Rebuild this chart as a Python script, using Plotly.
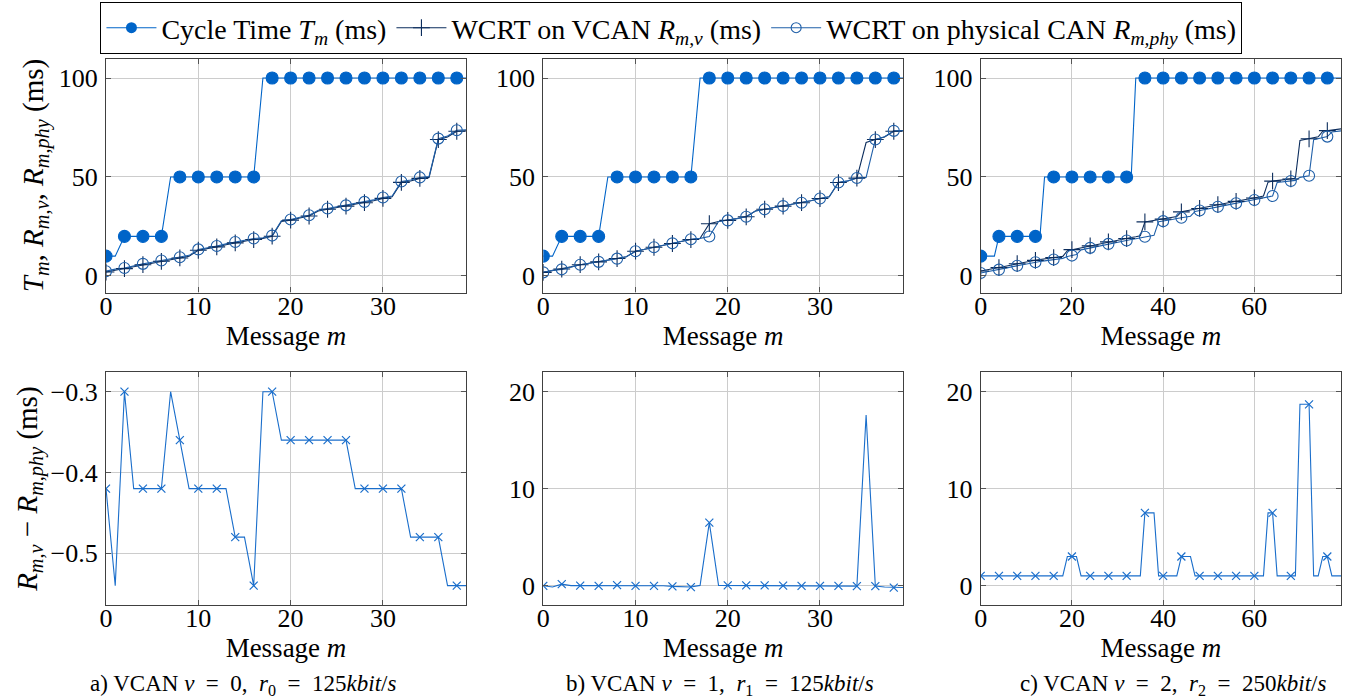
import plotly.graph_objects as go

# ---------------- data ----------------
msg_ab = [0, 1, 2, 3, 4, 5, 6, 7, 8, 9, 10, 11, 12, 13, 14, 15, 16, 17, 18, 19,
          20, 21, 22, 23, 24, 25, 26, 27, 28, 29, 30, 31, 32, 33, 34, 35, 36, 37, 38, 39]
msg_c = [0, 1, 2, 3, 4, 5, 6, 7, 8, 9, 10, 11, 12, 13, 14, 15, 16, 17, 18, 19,
         20, 21, 22, 23, 24, 25, 26, 27, 28, 29, 30, 31, 32, 33, 34, 35, 36, 37, 38, 39,
         40, 41, 42, 43, 44, 45, 46, 47, 48, 49, 50, 51, 52, 53, 54, 55, 56, 57, 58, 59,
         60, 61, 62, 63, 64, 65, 66, 67, 68, 69, 70, 71, 72, 73, 74, 75, 76, 77, 78, 79]

cycle_a = [10, 10, 20, 20, 20, 20, 20, 50, 50, 50, 50, 50, 50, 50, 50, 50, 50, 100, 100, 100,
           100, 100, 100, 100, 100, 100, 100, 100, 100, 100, 100, 100, 100, 100, 100, 100, 100, 100, 100, 100]
cycle_b = [10, 10, 20, 20, 20, 20, 20, 50, 50, 50, 50, 50, 50, 50, 50, 50, 50, 100, 100, 100,
           100, 100, 100, 100, 100, 100, 100, 100, 100, 100, 100, 100, 100, 100, 100, 100, 100, 100, 100, 100]
cycle_c = [10, 10, 10, 10, 20, 20, 20, 20, 20, 20, 20, 20, 20, 20, 50, 50, 50, 50, 50, 50,
           50, 50, 50, 50, 50, 50, 50, 50, 50, 50, 50, 50, 50, 50, 100, 100, 100, 100, 100, 100,
           100, 100, 100, 100, 100, 100, 100, 100, 100, 100, 100, 100, 100, 100, 100, 100, 100, 100, 100, 100,
           100, 100, 100, 100, 100, 100, 100, 100, 100, 100, 100, 100, 100, 100, 100, 100, 100, 100, 100, 100]

# WCRT on VCAN R_{m,v} (ms)
wcrt_vcan_a = [2.0, 2.9, 3.7, 4.7, 5.7, 6.5, 7.4, 8.3, 9.1, 10.0, 13.0, 13.8, 14.7, 15.8, 16.7, 17.5, 18.4, 19.0, 20.1, 27.5,
               28.2, 29.3, 30.3, 32.8, 33.7, 34.5, 35.3, 36.2, 37.0, 38.0, 39.2, 40.0, 47.3, 48.0, 49.3, 49.8, 68.9, 70.2, 73.1, 73.3]
wcrt_vcan_b = [1.8, 2.7, 3.5, 4.6, 5.7, 6.4, 7.1, 8.0, 8.8, 9.7, 12.5, 13.5, 14.5, 15.5, 16.4, 17.4, 18.4, 19.0, 26.4, 27.5,
               28.1, 29.0, 29.9, 32.8, 33.7, 34.5, 35.3, 36.2, 37.0, 38.0, 39.1, 40.0, 47.2, 48.0, 49.4, 67.4, 68.9, 70.2, 73.1, 73.3]
wcrt_vcan_c = [2.5, 2.9, 3.4, 3.8, 4.2, 4.7, 5.2, 5.7, 6.2, 6.6, 7.0, 7.5, 7.9, 8.3, 8.6, 9.0, 9.3, 9.6, 9.9, 12.8,
               13.3, 13.8, 14.2, 14.7, 15.2, 15.7, 16.2, 16.7, 17.2, 17.6, 18.1, 18.5, 18.9, 19.4, 19.8, 20.3, 27.3, 27.7, 28.0, 28.4,
               28.7, 29.1, 29.5, 30.0, 32.4, 32.8, 33.2, 33.6, 34.1, 34.6, 35.1, 35.5, 36.0, 36.4, 36.9, 37.3, 37.7, 38.2, 38.6, 39.0,
               39.4, 39.9, 40.4, 47.4, 47.9, 48.2, 48.5, 48.8, 49.0, 49.3, 68.5, 68.9, 69.3, 69.8, 70.3, 73.1, 73.4, 73.7, 74.0, 74.3]

# R_{m,v} - R_{m,phy} (ms)
diff_a = [-0.42, -0.54, -0.30, -0.42, -0.42, -0.42, -0.42, -0.30, -0.36, -0.42,
          -0.42, -0.42, -0.42, -0.42, -0.48, -0.48, -0.54, -0.30, -0.30, -0.36,
          -0.36, -0.36, -0.36, -0.36, -0.36, -0.36, -0.36, -0.42, -0.42, -0.42,
          -0.42, -0.42, -0.42, -0.48, -0.48, -0.48, -0.48, -0.54, -0.54, -0.54]
diff_b = [-0.02, -0.15, 0.15, 0.0, 0.0, 0.0, -0.02, 0.0, 0.05, 0.0,
          -0.02, 0.0, -0.02, -0.02, -0.08, -0.1, -0.15, 0.02, 6.5, 0.02,
          0.02, 0.02, 0.02, 0.02, 0.02, 0.0, 0.0, 0.0, -0.02, -0.02,
          -0.02, -0.02, -0.02, -0.05, -0.05, 17.6, -0.05, -0.15, -0.2, -0.2]
diff_c = [1.0, 1.0, 1.0, 1.0, 1.0, 1.0, 1.0, 1.0, 1.0, 1.0, 1.0, 1.0, 1.0, 1.0, 1.0, 1.0, 1.0, 1.0, 1.0, 3.0,
          3.0, 3.0, 1.0, 1.0, 1.0, 1.0, 1.0, 1.0, 1.0, 1.0, 1.0, 1.0, 1.0, 1.0, 1.0, 1.0, 7.5, 7.5, 7.5, 1.0,
          1.0, 1.0, 1.0, 1.0, 3.0, 3.0, 3.0, 1.0, 1.0, 1.0, 1.0, 1.0, 1.0, 1.0, 1.0, 1.0, 1.0, 1.0, 1.0, 1.0,
          1.0, 1.0, 1.0, 7.5, 7.5, 1.0, 1.0, 1.0, 1.0, 1.0, 18.7, 18.7, 18.7, 1.0, 1.0, 3.0, 3.0, 1.0, 1.0, 1.0]

captions = ["a) VCAN <i>v</i>&nbsp; =&nbsp; 0,&nbsp; <i>r</i><sub>0</sub>&nbsp; =&nbsp; 125<i>kbit</i>/<i>s</i>",
            "b) VCAN <i>v</i>&nbsp; =&nbsp; 1,&nbsp; <i>r</i><sub>1</sub>&nbsp; =&nbsp; 125<i>kbit</i>/<i>s</i>",
            "c) VCAN <i>v</i>&nbsp; =&nbsp; 2,&nbsp; <i>r</i><sub>2</sub>&nbsp; =&nbsp; 250<i>kbit</i>/<i>s</i>"]

# ---------------- style ----------------
FONT = "Liberation Serif"
C_CYCLE = "#0064c8"
C_VCAN = "#0b2c5c"
C_PHY = "#1f5fa8"
C_DIFF = "#1a6ecb"
W, H = 1351, 700

col_px = [(106, 466), (543.3, 903), (980.7, 1341)]
row_px = [(58.5, 292.5), (372.3, 605)]

fig = go.Figure()

panels = [
    (msg_ab, cycle_a, wcrt_vcan_a, diff_a, 2, [0, 39], [0, 10, 20, 30], [-0.564, -0.276], 0.1),
    (msg_ab, cycle_b, wcrt_vcan_b, diff_b, 2, [0, 39], [0, 10, 20, 30], [-2, 22], 10),
    (msg_c, cycle_c, wcrt_vcan_c, diff_c, 4, [0, 79], [0, 20, 40, 60], [-2, 22], 10),
]

for p, (x, cyc, rv, dv, step, xr, xt, dyr, ddt) in enumerate(panels):
    rphy = [a - b for a, b in zip(rv, dv)]
    top_ax = 2 * p + 1
    bot_ax = 2 * p + 2
    xa_t, ya_t = f"x{top_ax}", f"y{top_ax}"
    xa_b, ya_b = f"x{bot_ax}", f"y{bot_ax}"
    xs = x[::step]
    series = [(cyc, C_CYCLE, "circle", 12),
              (rv, C_VCAN, "cross-thin-open", 12),
              (rphy, C_PHY, "circle-open", 11)]
    for yy, col, sym, sz in series:
        fig.add_trace(go.Scatter(x=x, y=yy, mode="lines", xaxis=xa_t, yaxis=ya_t,
                                 line=dict(color=col, width=1.1), showlegend=False,
                                 hoverinfo="skip"))
    for yy, col, sym, sz in series:
        fig.add_trace(go.Scatter(x=xs, y=yy[::step], mode="markers", xaxis=xa_t, yaxis=ya_t,
                                 marker=dict(symbol=sym, size=sz, color=col,
                                             line=dict(color=col, width=1.1)),
                                 showlegend=False))
    fig.add_trace(go.Scatter(x=x, y=dv, mode="lines", xaxis=xa_b, yaxis=ya_b,
                             line=dict(color=C_DIFF, width=1.1), showlegend=False,
                             hoverinfo="skip"))
    fig.add_trace(go.Scatter(x=xs, y=dv[::step], mode="markers", xaxis=xa_b, yaxis=ya_b,
                             marker=dict(symbol="x-thin-open", size=8, color=C_DIFF,
                                         line=dict(color=C_DIFF, width=1.2)),
                             showlegend=False))

    axis_common = dict(showgrid=True, gridcolor="#cccccc", gridwidth=1,
                       showline=True, linecolor="#404040", linewidth=1.2, mirror="ticks",
                       ticks="inside", ticklen=5, tickcolor="#555555", zeroline=False,
                       tickfont=dict(family=FONT, size=26, color="black"))
    cx0, cx1 = col_px[p]
    for r, ax in [(0, top_ax), (1, bot_ax)]:
        ry0, ry1 = row_px[r]
        xkey = "xaxis" if ax == 1 else f"xaxis{ax}"
        ykey = "yaxis" if ax == 1 else f"yaxis{ax}"
        fig.layout[xkey] = dict(axis_common, domain=[cx0 / W, cx1 / W], range=xr,
                                tickvals=xt, anchor=f"y{ax}", ticklabelstandoff=-10,
                                title=dict(text="Message <i>m</i>", standoff=2,
                                           font=dict(family=FONT, size=27, color="black")))
        if r == 0:
            ydict = dict(axis_common, domain=[1 - ry1 / H, 1 - ry0 / H], range=[-8.35, 109.85],
                         tickvals=[0, 50, 100], anchor=f"x{ax}", ticklabelstandoff=2)
            if p == 0:
                ydict["title"] = dict(text="<i>T</i><sub><i>m</i></sub>,&nbsp;<i>R</i><sub><i>m,v</i></sub>,&nbsp;"
                                           "<i>R</i><sub><i>m,phy</i></sub> (ms)", standoff=6,
                                      font=dict(family=FONT, size=29, color="black"))
        else:
            ydict = dict(axis_common, domain=[1 - ry1 / H, 1 - ry0 / H], range=dyr,
                         dtick=ddt, tick0=0, anchor=f"x{ax}", ticklabelstandoff=2,
                         tickformat=".1f" if ddt < 1 else "d")
            if p == 0:
                ydict["title"] = dict(text="<i>R</i><sub><i>m,v</i></sub>&nbsp;\u2212&nbsp;"
                                           "<i>R</i><sub><i>m,phy</i></sub> (ms)", standoff=4,
                                      font=dict(family=FONT, size=29, color="black"))
        fig.layout[ykey] = ydict

# legend-only traces
fig.add_trace(go.Scatter(x=[None], y=[None], mode="lines+markers", name="Cycle Time <i>T</i><sub><i>m</i></sub> (ms)",
                         line=dict(color=C_CYCLE, width=1.1),
                         marker=dict(symbol="circle", size=11, color=C_CYCLE)))
fig.add_trace(go.Scatter(x=[None], y=[None], mode="lines+markers", name="WCRT on VCAN <i>R</i><sub><i>m,v</i></sub> (ms)",
                         line=dict(color=C_VCAN, width=1.1),
                         marker=dict(symbol="cross-thin-open", size=12, color=C_VCAN,
                                     line=dict(color=C_VCAN, width=1.1))))
fig.add_trace(go.Scatter(x=[None], y=[None], mode="lines+markers",
                         name="WCRT on physical CAN <i>R</i><sub><i>m,phy</i></sub> (ms)",
                         line=dict(color=C_PHY, width=1.1),
                         marker=dict(symbol="circle-open", size=10, color=C_PHY,
                                     line=dict(color=C_PHY, width=1.1))))

cap_x = [243, 720, 1173]
for cx, txt in zip(cap_x, captions):
    fig.add_annotation(x=cx / W, y=1 - 685 / H, xref="paper", yref="paper", text=txt,
                       showarrow=False, font=dict(family=FONT, size=23, color="black"),
                       xanchor="center", yanchor="middle")

fig.update_layout(
    width=W, height=H, margin=dict(l=0, r=0, t=0, b=0, autoexpand=False),
    paper_bgcolor="white", plot_bgcolor="white",
    font=dict(family=FONT, color="black"),
    legend=dict(orientation="h", x=0.497, xanchor="center", y=1 - 2 / H, yanchor="top",
                bordercolor="black", borderwidth=1, bgcolor="white",
                font=dict(family=FONT, size=28, color="black"), itemwidth=50,
                tracegroupgap=0),
)

fig.write_html("out.html", config={"displayModeBar": False},
               post_script="document.body.style.margin='0px';document.body.style.overflow='hidden';")
